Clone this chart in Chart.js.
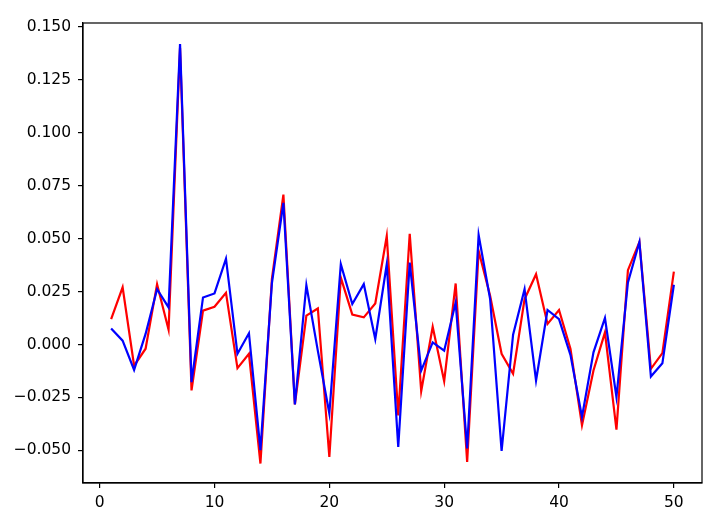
<!DOCTYPE html>
<html>
<head>
<meta charset="utf-8">
<script src="https://cdn.jsdelivr.net/npm/chart.js@4"></script>
<style>
  body { margin: 0; background: #fff; }
</style>
</head>
<body>
<canvas id="myChart" width="717" height="526"></canvas>
<script>
const xs = [1, 2, 3, 4, 5, 6, 7, 8, 9, 10, 11, 12, 13, 14, 15, 16, 17, 18, 19, 20,
  21, 22, 23, 24, 25, 26, 27, 28, 29, 30, 31, 32, 33, 34, 35, 36, 37, 38, 39, 40,
  41, 42, 43, 44, 45, 46, 47, 48, 49, 50];

const redSeries = [0.012, 0.027, -0.010, -0.002, 0.0285, 0.007, 0.140, -0.0217, 0.016, 0.0178,
  0.0244, -0.0112, -0.0044, -0.0562, 0.031, 0.0708, -0.0283, 0.0136, 0.017, -0.0531,
  0.0316, 0.0141, 0.0128, 0.0194, 0.0512, -0.0335, 0.0523, -0.022, 0.0084, -0.0173,
  0.0288, -0.0554, 0.0442, 0.023, -0.0044, -0.0138, 0.0214, 0.0332, 0.0097, 0.0163,
  -0.0021, -0.0382, -0.0123, 0.0057, -0.0402, 0.0351, 0.0484, -0.0115, -0.0041, 0.0344];

const blueSeries = [0.0076, 0.0018, -0.012, 0.005, 0.0261, 0.0175, 0.1419, -0.0178, 0.0222, 0.0241,
  0.0405, -0.0044, 0.0053, -0.0499, 0.029, 0.0669, -0.0283, 0.028, -0.003, -0.0326,
  0.0379, 0.0191, 0.0285, 0.0026, 0.0379, -0.0484, 0.0387, -0.0123, 0.001, -0.0029,
  0.0198, -0.0491, 0.0517, 0.0215, -0.0502, 0.0046, 0.0261, -0.017, 0.0163, 0.012,
  -0.005, -0.0342, -0.0037, 0.0125, -0.0248, 0.0293, 0.0484, -0.0151, -0.0089, 0.0282];

const xTicks = [0, 10, 20, 30, 40, 50];
const yTicks = [-0.05, -0.025, 0, 0.025, 0.05, 0.075, 0.1, 0.125, 0.15];

const toPoints = (vals) => vals.map((v, i) => ({ x: xs[i], y: v }));

// box around the plot area, like matplotlib spines
const frame = {
  id: 'frame',
  afterDraw(chart) {
    const a = chart.chartArea;
    const c = chart.ctx;
    c.save();
    c.strokeStyle = '#000';
    c.lineWidth = 1.2;
    c.strokeRect(a.left, a.top, a.right - a.left, a.bottom - a.top);
    c.restore();
  }
};

const font = { family: 'DejaVu Sans', size: 15.5 };

new Chart(document.getElementById('myChart'), {
  type: 'line',
  data: {
    datasets: [
      { label: 'red', data: toPoints(redSeries), borderColor: 'red', borderWidth: 2.2, pointRadius: 0, order: 1 },
      { label: 'blue', data: toPoints(blueSeries), borderColor: 'blue', borderWidth: 2.2, pointRadius: 0, order: 0 }
    ]
  },
  options: {
    responsive: false,
    animation: false,
    layout: { padding: { top: 23, right: 15, left: 0, bottom: 0 } },
    plugins: { legend: { display: false }, tooltip: { enabled: false } },
    scales: {
      x: {
        type: 'linear',
        min: -1.45,
        max: 52.45,
        afterBuildTicks: (s) => { s.ticks = xTicks.map(v => ({ value: v })); },
        afterFit: (s) => { s.height = 43; },
        grid: { drawOnChartArea: false, color: '#000', tickLength: 5, lineWidth: 1.2 },
        border: { color: '#000', width: 1.2 },
        ticks: { color: '#000', font: font, padding: 6, maxRotation: 0 }
      },
      y: {
        min: -0.0654,
        max: 0.1518,
        afterBuildTicks: (s) => { s.ticks = yTicks.map(v => ({ value: v })); },
        afterFit: (s) => { s.width = 83; },
        grid: { drawOnChartArea: false, color: '#000', tickLength: 5, lineWidth: 1.2 },
        border: { color: '#000', width: 1.2 },
        ticks: {
          color: '#000',
          font: font,
          padding: 7,
          callback: (v) => v.toFixed(3).replace('-', '\u2212')
        }
      }
    }
  },
  plugins: [frame]
});
</script>
</body>
</html>
